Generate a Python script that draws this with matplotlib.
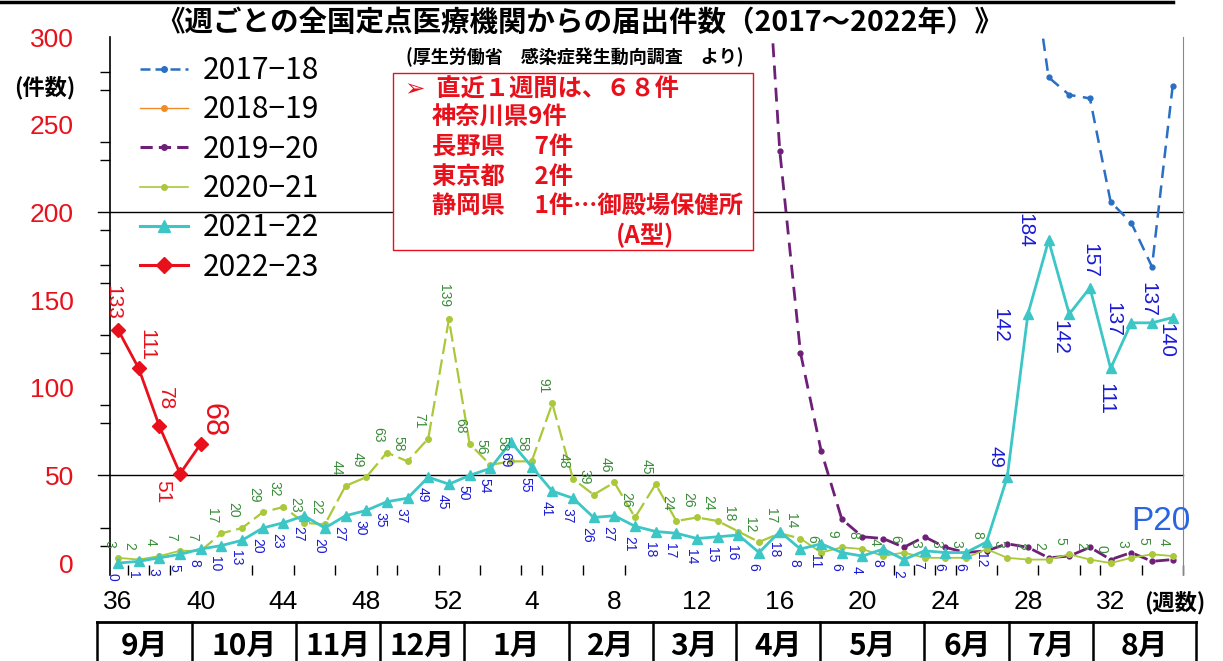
import numpy as np
import matplotlib
matplotlib.use('Agg')
import matplotlib.pyplot as plt
from matplotlib.lines import Line2D
from matplotlib.patches import Rectangle

plt.rcParams['font.family'] = ['Noto Sans CJK JP', 'DejaVu Sans']

W, H = 1223, 661
nan = np.nan

# --- data -------------------------------------------------------------
weeks = list(range(36, 53)) + list(range(1, 36))

s_2017_18 = [nan] * 44 + [360, 277, 267, 265, 206, 194, 169, 272]
s_2018_19 = []  # off scale, legend only
s_2019_20 = [nan] * 31 + [420, 235, 120, 64, 25, 15, 14, 9, 15, 9, 6, 7,
                          11, 9, 3, 4, 9, 2, 6, 1, 2]
s_2020_21 = [3, 2, 4, 7, 7, 17, 20, 29, 32, 23, 22, 44, 49, 63, 58, 71, 139,
             68, 56, 58, 58, 91, 48, 39, 46, 26, 45, 24, 26, 24, 18, 12, 17, 14,
             6, 9, 8, 4, 6, 3, 3, 3, 8, 3, 2, 2, 5, 2, 0, 3, 5, 4]
s_2021_22 = [0, 1, 3, 5, 8, 10, 13, 20, 23, 27, 20, 27, 30, 35, 37, 49, 45,
             50, 54, 69, 55, 41, 37, 26, 27, 21, 18, 17, 14, 15, 16, 6, 18, 8,
             11, 6, 4, 8, 2, 7, 6, 6, 12, 49, 142, 184, 142, 157, 111, 137, 137, 140]
s_2022_23 = [133, 111, 78, 51, 68]

series_names = ['2017−18', '2018−19', '2019−20', '2020−21', '2021−22', '2022−23']

months = ['9月', '10月', '11月', '12月', '1月', '2月', '3月', '4月',
          '5月', '6月', '7月', '8月']
# month borders in week-index units
month_edges = [-1, 3.55, 8.6, 12.65, 16.7, 21.75, 25.8, 29.8, 33.85, 38.9, 43, 47.05, 52]

box_lines = ['➢  直近１週間は、６８件', '神奈川県9件', '長野県　 7件', '東京都　 2件',
             '静岡県　 1件…御殿場保健所']

# --- colours ----------------------------------------------------------
c17 = '#2a6fc4'
c18 = '#f08c28'
c19 = '#6e1f78'
c20 = '#aac83a'
c21 = '#3cc6c6'
c22 = '#e8101a'
lab21 = '#1a1ad6'
lab20 = '#3a8c3a'

fig = plt.figure(figsize=(W / 100, H / 100), dpi=100)
ax_left, ax_w = 110 / W, 1073 / W
ax = fig.add_axes([ax_left, (H - 575) / H, ax_w, 538 / H])
xlim = (-0.39, 51.38)
ax.set_xlim(*xlim)
ax.set_ylim(-6.8, 300)

x = np.arange(len(weeks))

# gridlines at 50 and 200
for yv in (50, 200):
    ax.axhline(yv, xmin=-0.011, color='black', lw=1.0, clip_on=False, zorder=1)

# series
ax.plot(x, s_2017_18, color=c17, ls=(0, (5, 3)), lw=1.8, marker='o', ms=3.5, zorder=2)
ax.plot(x, s_2019_20, color=c19, ls=(0, (5, 3)), lw=2.0, marker='o', ms=3.5, zorder=3)

y20 = np.array(s_2020_21, dtype=float)
ax.plot(x[:5], y20[:5], color=c20, lw=1.3, zorder=4)
ax.plot(x[4:34], y20[4:34], color=c20, lw=1.6, ls=(0, (7, 2.5)), zorder=4)
ax.plot(x[33:], y20[33:], color=c20, lw=1.3, zorder=4)
ax.plot(x, y20, ls='none', marker='o', ms=4, color=c20, zorder=4)

ax.plot(x, s_2021_22, color=c21, lw=2.0, marker='^', ms=7, zorder=5)
ax.plot(x[:len(s_2022_23)], s_2022_23, color=c22, lw=2.0, marker='D', ms=7, zorder=6)


def put_labels(vals, color, size, dx, dy, va, special=None):
    special = special or {}
    for i, v in enumerate(vals):
        if np.isnan(v):
            continue
        ddx, ddy, vva, sz = special.get(i, (dx, dy, va, size))
        ax.annotate(f'{int(v)}', (x[i], v), xytext=(ddx, ddy),
                    textcoords='offset pixels', rotation=270, color=color,
                    fontsize=sz, ha='center', va=vva, family='Liberation Sans',
                    zorder=7, annotation_clip=False)


put_labels(y20, lab20, 10, -9, 10, 'bottom', {16: (-5, 12, 'bottom', 10)})
put_labels(np.array(s_2021_22, dtype=float), lab21, 10, -6, -10, 'top', {
    43: (-12, 9, 'bottom', 14),
    44: (-28, -11, 'center', 15),
    45: (-24, 10, 'center', 15),
    46: (-9, -6, 'top', 15),
    47: (0, 10, 'bottom', 15),
    48: (-5, -15, 'top', 15),
    49: (-18, 3, 'center', 15),
    50: (-4, 6, 'bottom', 15),
    51: (-7, -5, 'top', 15),
})
put_labels(np.array(s_2022_23, dtype=float), c22, 15, 0, 0, 'bottom', {
    0: (-5, 10, 'bottom', 15),
    1: (8, 8, 'bottom', 15),
    2: (6, 16, 'bottom', 15),
    3: (-17, -6, 'top', 15),
    4: (12, 7, 'bottom', 22),
})

# axes styling
for side in ('top', 'bottom'):
    ax.spines[side].set_visible(False)
ax.spines['left'].set_color('black')
ax.spines['left'].set_linewidth(1.2)
ax.spines['right'].set_color('#888888')
ax.spines['right'].set_linewidth(0.8)

ax.set_yticks(range(0, 301, 50))
ax.set_yticks([10, 20, 80, 90, 120, 130, 160, 170, 190, 230, 240, 270, 280], minor=True)
ax.tick_params(axis='y', which='major', length=0, pad=26, labelsize=19,
               labelcolor='#e8101a', labelfontfamily='Liberation Sans')
ax.tick_params(axis='y', which='minor', length=7, width=1, direction='out')

ax.set_xticks(x[::4])
ax.set_xticklabels([str(weeks[i]) for i in range(0, len(weeks), 4)])
ax.set_xticks([0.5, 1.5, 2.5, 6.5, 8.5, 10.5, 12.5, 13.5, 15.5, 17.5, 19.5, 20.5,
               22.5, 24.5, 37.5, 38.5, 39.5, 40.5, 42.5, 44.5, 46.5, 47.5, 49.5, 51.5],
              minor=True)
ax.tick_params(axis='x', which='major', length=0, pad=11, labelsize=19,
               labelfontfamily='Liberation Sans')
ax.tick_params(axis='x', which='minor', length=7, width=1, direction='in')

# legend
handles = [
    Line2D([], [], color=c17, ls=(0, (4, 2)), lw=1.8, marker='o', ms=4),
    Line2D([], [], color=c18, lw=1.0, marker='o', ms=4),
    Line2D([], [], color=c19, ls=(0, (4, 2)), lw=2.2, marker='o', ms=4),
    Line2D([], [], color=c20, lw=1.2, marker='o', ms=4),
    Line2D([], [], color=c21, lw=2.2, marker='^', ms=8),
    Line2D([], [], color=c22, lw=2.2, marker='D', ms=8),
]
fig.legend(handles, series_names, loc='upper left', bbox_to_anchor=(140 / W, 1 - 55 / H),
           bbox_transform=fig.transFigure, frameon=False, fontsize=21.5,
           handlelength=1.6, handletextpad=0.5, labelspacing=0.28,
           borderpad=0, borderaxespad=0)

# titles and side texts
fig.text(580 / W, 1 - 23 / H, '《週ごとの全国定点医療機関からの届出件数（2017～2022年）》',
         ha='center', va='center', fontsize=20.5, fontweight='bold')
fig.text(575 / W, 1 - 57 / H, '(厚生労働省　感染症発生動向調査　より)',
         ha='center', va='center', fontsize=13, fontweight='bold')
fig.text(45 / W, 1 - 88 / H, '(件数)', ha='center', va='center', fontsize=16,
         fontweight='bold')
fig.text(1175 / W, 1 - 603 / H, '(週数)', ha='center', va='center', fontsize=16,
         fontweight='bold')
fig.text(1161 / W, 1 - 521 / H, 'P20', ha='center', va='center', fontsize=24,
         color='#2a64e0', family='Liberation Sans')

# top border line
fig.add_artist(Line2D([0, 1173 / W], [1 - 1.5 / H, 1 - 1.5 / H], color='black', lw=2.5))

# red info box
fig.add_artist(Rectangle((393 / W, 1 - 250 / H), 360 / W, 177 / H, facecolor='white',
                         edgecolor='#e8101a', lw=1.0, zorder=3))
box_y = [90, 118, 148, 177, 207]
box_x = [405, 432, 432, 432, 432]
for ln, bx, by in zip(box_lines, box_x, box_y):
    fig.text(bx / W, 1 - by / H, ln, ha='left', va='center', fontsize=17.5,
             fontweight='bold', color='#e8101a',
             family=['Noto Sans CJK JP', 'DejaVu Sans'], zorder=4)
fig.text(645 / W, 1 - 235 / H, '(A型)', ha='center', va='center', fontsize=17.5,
         fontweight='bold', color='#e8101a', zorder=4)

# month table
tax = fig.add_axes([ax_left, 0, ax_w, 39 / H])
tax.set_xlim(*xlim)
tax.set_ylim(0, 1)
tax.axis('off')
tax.plot([month_edges[0], month_edges[-1]], [1, 1], color='black', lw=2, clip_on=False)
for e in month_edges:
    tax.plot([e, e], [0, 1], color='black', lw=1.8, clip_on=False)
for m, a, b in zip(months, month_edges[:-1], month_edges[1:]):
    tax.text((a + b) / 2, 0.4, m, ha='center', va='center', fontsize=21.5,
             fontweight='bold', clip_on=False)

fig.savefig('out.png', dpi=100)
